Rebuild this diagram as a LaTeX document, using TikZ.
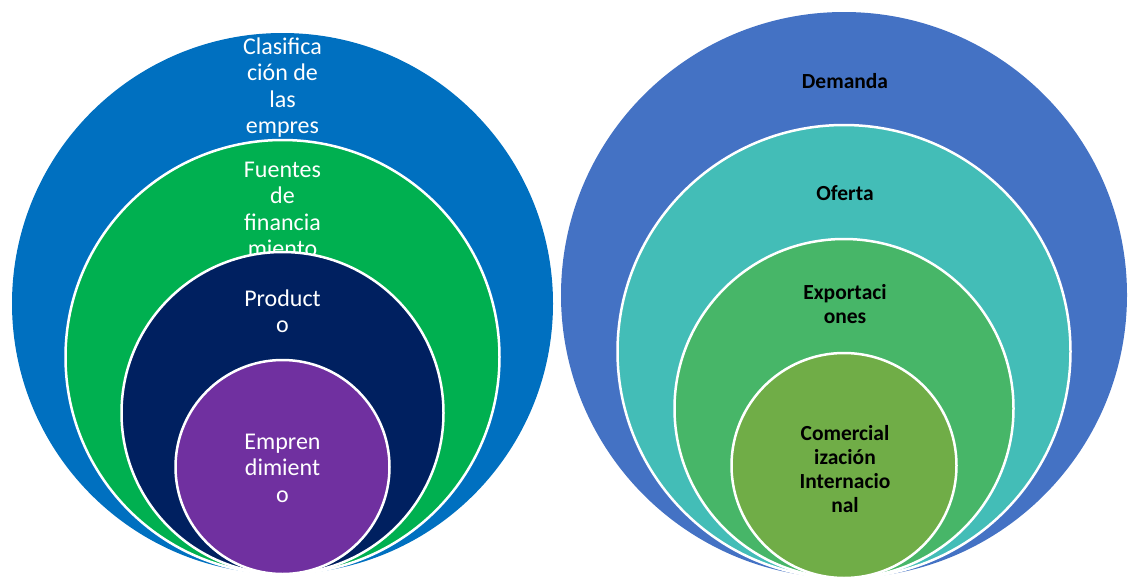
\documentclass[tikz,border=0pt]{standalone}
\usepackage{fontspec}
\setmainfont{Carlito}
\definecolor{cBlueL}{HTML}{0070C0}
\definecolor{cGreenL}{HTML}{00B050}
\definecolor{cNavy}{HTML}{002060}
\definecolor{cPurple}{HTML}{7030A0}
\definecolor{cBlueR}{HTML}{4472C4}
\definecolor{cTeal}{RGB}{67,189,183}
\definecolor{cGreenR}{RGB}{71,182,104}
\definecolor{cOlive}{HTML}{70AD47}
\begin{document}
\begin{tikzpicture}[x=1pt,y=-1pt,
  ring/.style={circle, inner sep=0pt, outer sep=0pt, minimum size=#1},
  outerring/.style={ring=#1},
  innerring/.style={ring=#1, draw=white, line width=2.5pt},
  lefttext/.style={align=center, text=white, inner sep=0pt,
    font=\fontsize{24}{26.5}\selectfont},
  righttext/.style={align=center, text=black, inner sep=0pt,
    font=\fontsize{21.5}{24}\selectfont\bfseries}]
\useasboundingbox (0,0) rectangle (1130,581);

% left target: nested circles touching at the bottom
\node[outerring=541pt, fill=cBlueL] (lA) at (282.5,303.5) {};
\node[lefttext] (tA) at (282.5,87.5) {Clasifica\\ción de\\las\\empres};
\node[innerring=434pt, fill=cGreenL] (lB) at (282.5,357) {};
\node[lefttext] (tB) at (282.5,209.5) {Fuentes\\de\\financia\\miento};
\node[innerring=322pt, fill=cNavy] (lC) at (282.5,413) {};
\node[lefttext] (tC) at (282.5,311) {Product\\o};
\node[innerring=214pt, fill=cPurple] (lD) at (282.5,467) {};
\node[lefttext] (tD) at (282.5,468) {Empren\\dimient\\o};

% right target
\node[outerring=566pt, fill=cBlueR] (rA) at (844,295) {};
\node[righttext] (uA) at (845,81) {Demanda};
\node[innerring=453pt, fill=cTeal] (rB) at (844,351.5) {};
\node[righttext] (uB) at (845,193) {Oferta};
\node[innerring=339pt, fill=cGreenR] (rC) at (844,408.5) {};
\node[righttext] (uC) at (845,304) {Exportaci\\ones};
\node[innerring=225pt, fill=cOlive] (rD) at (844,465.5) {};
\node[righttext] (uD) at (845,469.5) {Comercial\\ización\\Internacio\\nal};
\end{tikzpicture}
\end{document}
